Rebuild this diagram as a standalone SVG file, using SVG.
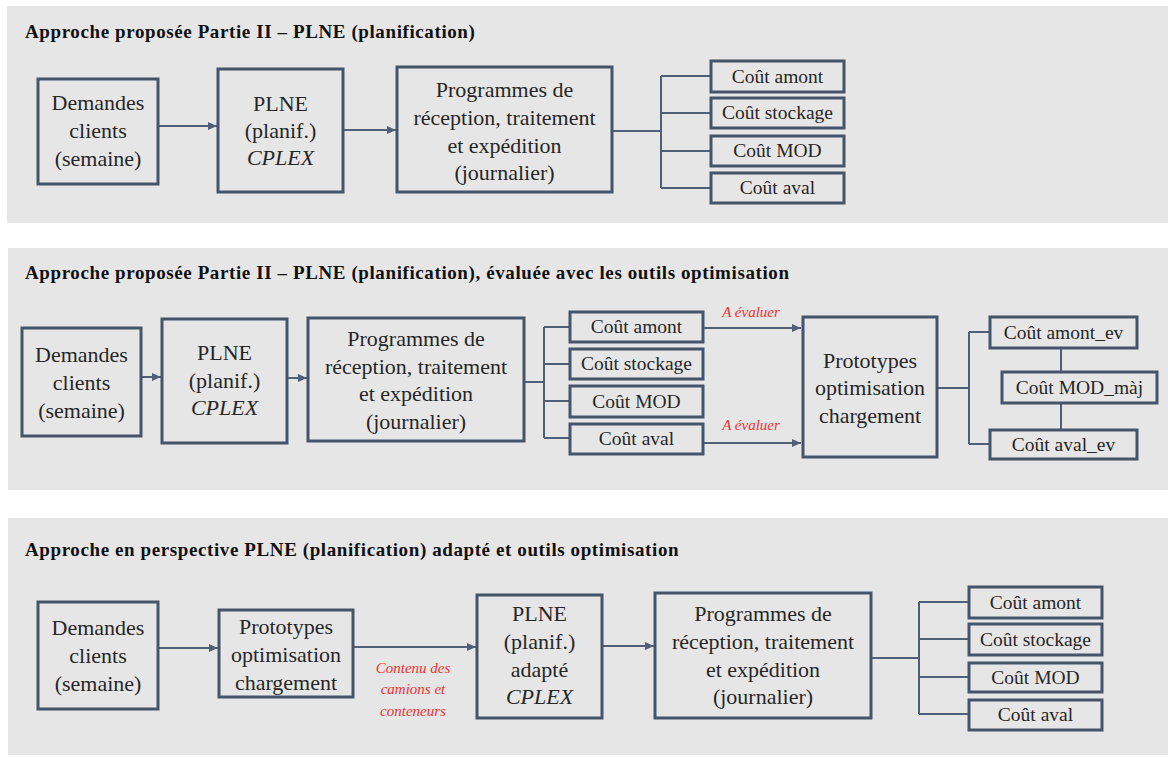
<svg xmlns="http://www.w3.org/2000/svg" width="1168" height="757" viewBox="0 0 1168 757">
<style>
text{font-family:'Liberation Serif','Times New Roman','DejaVu Serif',serif}
.bg{fill:#e7e6e6}
.box{fill:none;stroke:#44546a;stroke-width:3}
.ln{fill:none;stroke:#4f5f78;stroke-width:2}
.t{font-size:22px;fill:#262626;text-anchor:middle}
.i{font-style:italic}
.c{font-size:19.5px;fill:#262626;text-anchor:middle}
.h{font-size:19px;font-weight:bold;fill:#111;letter-spacing:0.6px}
.r{font-size:15px;font-style:italic;fill:#f03030;text-anchor:middle}
</style>
<defs>
<marker id="ah" markerWidth="9" markerHeight="8" refX="9" refY="4" orient="auto" markerUnits="userSpaceOnUse">
<path d="M0,0 L9,4 L0,8 z" fill="#4f5f78"/>
</marker>
</defs>

<g id="panels">
<rect class="bg" x="7" y="6" width="1161" height="217"/>
<rect class="bg" x="8" y="248" width="1160" height="242"/>
<rect class="bg" x="8" y="518" width="1160" height="237"/>
<text class="h" x="25" y="38">Approche proposée Partie II – PLNE (planification)</text>
<text class="h" x="25" y="279">Approche proposée Partie II – PLNE (planification), évaluée avec les outils optimisation</text>
<text class="h" x="25" y="556">Approche en perspective PLNE (planification) adapté et outils optimisation</text>
</g>

<g id="connectors">
<line class="ln" x1="158" y1="126" x2="217" y2="126" marker-end="url(#ah)"/>
<line class="ln" x1="343" y1="130" x2="396" y2="130" marker-end="url(#ah)"/>
<path class="ln" d="M612,131 H661 M661,76 V188 M661,76 H711 M661,113 H711 M661,151 H711 M661,188 H711"/>
<line class="ln" x1="141" y1="377" x2="161" y2="377" marker-end="url(#ah)"/>
<line class="ln" x1="287" y1="378" x2="307" y2="378" marker-end="url(#ah)"/>
<path class="ln" d="M524,382 H544 M544,327 V438 M544,327 H570 M544,364 H570 M544,401 H570 M544,438 H570"/>
<line class="ln" x1="703" y1="328" x2="801" y2="328" marker-end="url(#ah)"/>
<line class="ln" x1="703" y1="443" x2="801" y2="443" marker-end="url(#ah)"/>
<path class="ln" d="M937,388 H969 M969,332 V444 M969,332 H990 M969,444 H990"/>
<path class="ln" d="M1061,348 V372 M1061,403 V430"/>
<line class="ln" x1="158" y1="648" x2="218" y2="648" marker-end="url(#ah)"/>
<line class="ln" x1="353" y1="647" x2="476" y2="647" marker-end="url(#ah)"/>
<line class="ln" x1="602" y1="646" x2="654" y2="646" marker-end="url(#ah)"/>
<path class="ln" d="M871,658 H919 M919,602 V714 M919,602 H969 M919,639 H969 M919,677 H969 M919,714 H969"/>
</g>

<g id="p1-demandes">
<rect class="box" x="38" y="79" width="120" height="105"/>
<text class="t" x="98" y="110">Demandes</text>
<text class="t" x="98" y="138">clients</text>
<text class="t" x="98" y="166">(semaine)</text>
</g>
<g id="p1-plne">
<rect class="box" x="218" y="69" width="125" height="123"/>
<text class="t" x="280.5" y="111">PLNE</text>
<text class="t" x="280.5" y="138">(planif.)</text>
<text class="t i" x="280.5" y="165">CPLEX</text>
</g>
<g id="p1-programmes">
<rect class="box" x="397" y="67" width="215" height="125"/>
<text class="t" x="504.5" y="97">Programmes de</text>
<text class="t" x="504.5" y="125">réception, traitement</text>
<text class="t" x="504.5" y="153">et expédition</text>
<text class="t" x="504.5" y="180">(journalier)</text>
</g>
<g id="p1-amont"><rect class="box" x="711" y="61" width="133" height="31"/><text class="c" x="777.5" y="83">Coût amont</text></g>
<g id="p1-stockage"><rect class="box" x="711" y="98" width="133" height="30"/><text class="c" x="777.5" y="119">Coût stockage</text></g>
<g id="p1-mod"><rect class="box" x="711" y="136" width="133" height="30"/><text class="c" x="777.5" y="157">Coût MOD</text></g>
<g id="p1-aval"><rect class="box" x="711" y="173" width="133" height="30"/><text class="c" x="777.5" y="194">Coût aval</text></g>

<g id="p2-demandes">
<rect class="box" x="22" y="328" width="119" height="108"/>
<text class="t" x="81.5" y="362">Demandes</text>
<text class="t" x="81.5" y="390">clients</text>
<text class="t" x="81.5" y="418">(semaine)</text>
</g>
<g id="p2-plne">
<rect class="box" x="162" y="319" width="125" height="124"/>
<text class="t" x="224.5" y="360">PLNE</text>
<text class="t" x="224.5" y="388">(planif.)</text>
<text class="t i" x="224.5" y="415">CPLEX</text>
</g>
<g id="p2-programmes">
<rect class="box" x="308" y="318" width="216" height="123"/>
<text class="t" x="416" y="346">Programmes de</text>
<text class="t" x="416" y="374">réception, traitement</text>
<text class="t" x="416" y="401">et expédition</text>
<text class="t" x="416" y="429">(journalier)</text>
</g>
<g id="p2-amont"><rect class="box" x="570" y="312" width="133" height="30"/><text class="c" x="636.5" y="333">Coût amont</text></g>
<g id="p2-stockage"><rect class="box" x="570" y="349" width="133" height="30"/><text class="c" x="636.5" y="370">Coût stockage</text></g>
<g id="p2-mod"><rect class="box" x="570" y="386" width="133" height="31"/><text class="c" x="636.5" y="408">Coût MOD</text></g>
<g id="p2-aval"><rect class="box" x="570" y="424" width="133" height="30"/><text class="c" x="636.5" y="445">Coût aval</text></g>
<g id="p2-labels">
<text class="r" x="751" y="317">A évaluer</text>
<text class="r" x="751" y="430">A évaluer</text>
</g>
<g id="p2-prototypes">
<rect class="box" x="803" y="317" width="134" height="140"/>
<text class="t" x="870" y="368">Prototypes</text>
<text class="t" x="870" y="395">optimisation</text>
<text class="t" x="870" y="423">chargement</text>
</g>
<g id="p2-amont-ev"><rect class="box" x="990" y="317" width="147" height="31"/><text class="c" x="1063.5" y="339">Coût amont_ev</text></g>
<g id="p2-mod-maj"><rect class="box" x="1002" y="372" width="155" height="31"/><text class="c" x="1079.5" y="394">Coût MOD_màj</text></g>
<g id="p2-aval-ev"><rect class="box" x="990" y="430" width="147" height="29"/><text class="c" x="1063.5" y="451">Coût aval_ev</text></g>

<g id="p3-demandes">
<rect class="box" x="38" y="602" width="120" height="107"/>
<text class="t" x="98" y="635">Demandes</text>
<text class="t" x="98" y="663">clients</text>
<text class="t" x="98" y="691">(semaine)</text>
</g>
<g id="p3-prototypes">
<rect class="box" x="219" y="610" width="134" height="87"/>
<text class="t" x="286" y="634">Prototypes</text>
<text class="t" x="286" y="662">optimisation</text>
<text class="t" x="286" y="690">chargement</text>
</g>
<g id="p3-label">
<text class="r" x="413" y="673">Contenu des</text>
<text class="r" x="413" y="694">camions et</text>
<text class="r" x="413" y="716">conteneurs</text>
</g>
<g id="p3-plne">
<rect class="box" x="477" y="595" width="125" height="123"/>
<text class="t" x="539.5" y="621">PLNE</text>
<text class="t" x="539.5" y="649">(planif.)</text>
<text class="t" x="539.5" y="677">adapté</text>
<text class="t i" x="539.5" y="704">CPLEX</text>
</g>
<g id="p3-programmes">
<rect class="box" x="655" y="593" width="216" height="125"/>
<text class="t" x="763" y="621">Programmes de</text>
<text class="t" x="763" y="649">réception, traitement</text>
<text class="t" x="763" y="677">et expédition</text>
<text class="t" x="763" y="704">(journalier)</text>
</g>
<g id="p3-amont"><rect class="box" x="969" y="587" width="133" height="31"/><text class="c" x="1035.5" y="609">Coût amont</text></g>
<g id="p3-stockage"><rect class="box" x="969" y="624" width="133" height="31"/><text class="c" x="1035.5" y="646">Coût stockage</text></g>
<g id="p3-mod"><rect class="box" x="969" y="663" width="133" height="29"/><text class="c" x="1035.5" y="684">Coût MOD</text></g>
<g id="p3-aval"><rect class="box" x="969" y="700" width="133" height="30"/><text class="c" x="1035.5" y="721">Coût aval</text></g>
</svg>
